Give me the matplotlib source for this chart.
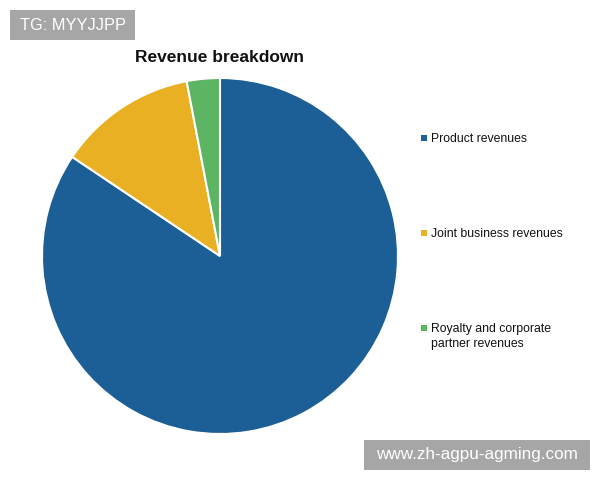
import matplotlib
matplotlib.use("Agg")
import matplotlib.pyplot as plt
from matplotlib.patches import Rectangle

labels = ["Product revenues", "Joint business revenues", "Royalty and corporate\npartner revenues"]
values = [84.4, 12.6, 3.0]
colors = ["#1B5F96", "#E8B022", "#5DB462"]

plt.rcParams['font.family'] = ['Liberation Sans', 'DejaVu Sans']

W, H = 600, 480
fig = plt.figure(figsize=(6, 4.8), dpi=100)
fig.patch.set_facecolor("white")

cx, cy, r = 220, 256, 178
ax = fig.add_axes([(cx - r) / W, (H - cy - r) / H, 2 * r / W, 2 * r / H])
ax.pie(values, colors=colors, startangle=90, counterclock=False,
       wedgeprops=dict(edgecolor="white", linewidth=1.5), radius=1)
ax.set_xlim(-1, 1)
ax.set_ylim(-1, 1)
ax.set_aspect("equal")
ax.axis("off")

fig.text(220 / W, 1 - 57 / H, "Revenue breakdown", ha="center", va="center",
         fontsize=12.5, fontweight="bold", color="#111111")

# legend
leg_y = [138, 233, 328]
for lab, col, y in zip(labels, colors, leg_y):
    fig.patches.append(Rectangle(((421) / W, 1 - (y + 3) / H), 6 / W, 6 / H,
                                 transform=fig.transFigure, facecolor=col, edgecolor="none"))
    fig.text(431 / W, 1 - (y - 5) / H, lab, ha="left", va="top", fontsize=8.8,
             color="#111111", linespacing=1.3)

# watermark boxes
fig.patches.append(Rectangle((10 / W, 1 - 40 / H), 125 / W, 30 / H, transform=fig.transFigure,
                             facecolor="#A6A6A6", edgecolor="none"))
fig.text(72.5 / W, 1 - 25 / H, "TG: MYYJJPP", ha="center", va="center", fontsize=11.8,
         color="white")
fig.patches.append(Rectangle((364 / W, 1 - 470 / H), 226 / W, 30 / H, transform=fig.transFigure,
                             facecolor="#A6A6A6", edgecolor="none"))
fig.text(477 / W, 1 - 455 / H, "www.zh-agpu-agming.com", ha="center", va="center", fontsize=12.3,
         color="white")

fig.savefig("out.png", dpi=100)
